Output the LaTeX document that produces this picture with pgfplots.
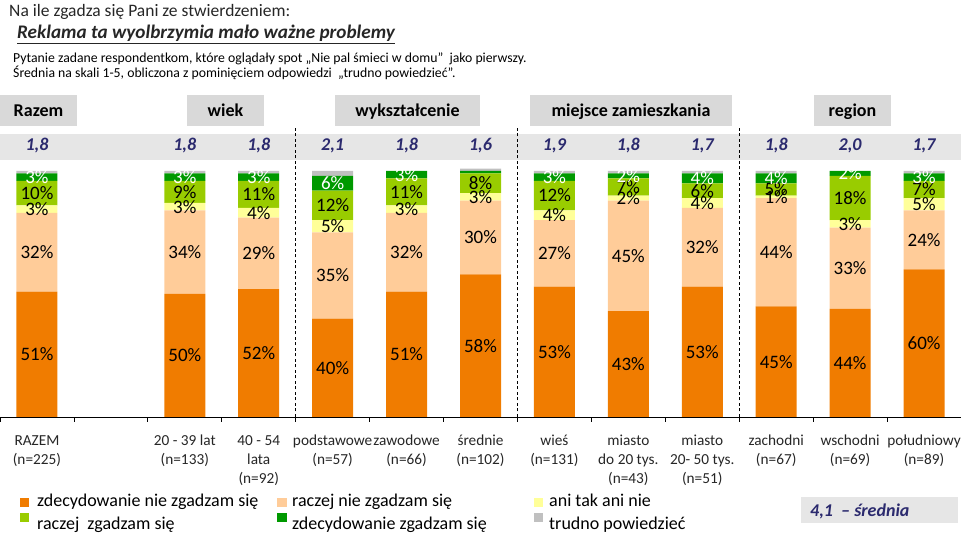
\documentclass[border=0pt]{standalone}
\usepackage{fontspec}
\setmainfont{Carlito}
\usepackage{pgfplots}
\usepackage{pgfplotstable}
\pgfplotsset{compat=1.18}

\definecolor{cA}{HTML}{F07C00}
\definecolor{cB}{HTML}{FFCC99}
\definecolor{cC}{HTML}{FFFF99}
\definecolor{cD}{HTML}{99CC00}
\definecolor{cE}{HTML}{009900}
\definecolor{cF}{HTML}{C0C0C0}
\definecolor{band}{HTML}{E6E6E6}
\definecolor{hdr}{HTML}{D9D9D9}
\definecolor{meanc}{HTML}{2B2A6E}
\definecolor{titc}{HTML}{262626}

\pgfplotstableread{
x a b c d e f
0 51 32 3 10 3 1
2 50 34 3 9 3 1
3 52 29 4 11 3 1
4 40 35 5 12 6 2
5 51 32 3 11 3 0
6 58 30 3 8 1 1
7 53 27 4 12 3 1
8 43 45 2 7 2 1
9 53 32 4 6 4 1
10 45 44 1 5 4 1
11 44 33 3 18 2 0
12 60 24 5 7 3 1
}\data

\newcommand{\fs}[2]{\fontsize{#1}{#2}\selectfont}

\begin{document}
\begin{tikzpicture}[x=1pt,y=1pt]
% mean band and headers
\fill[band] (0,378) rectangle (961,404);
\fill[hdr] (0,412) rectangle (77,443);
\fill[hdr] (187,412) rectangle (264,443);
\fill[hdr] (335,412) rectangle (480,443);
\fill[hdr] (530,412) rectangle (732,443);
\fill[hdr] (814,412) rectangle (891,443);
\node[anchor=base,font=\fs{18}{20}\bfseries] at (38.5,421) {Razem};
\node[anchor=base,font=\fs{18}{20}\bfseries] at (225.5,421) {wiek};
\node[anchor=base,font=\fs{18}{20}\bfseries] at (407.5,421) {wykształcenie};
\node[anchor=base,font=\fs{18}{20}\bfseries] at (631,421) {miejsce zamieszkania};
\node[anchor=base,font=\fs{18}{20}\bfseries] at (852.5,421) {region};

% titles
\node[anchor=base west,inner sep=0pt,text=titc,font=\fs{17.5}{20}] at (9,521) {Na ile zgadza się Pani ze stwierdzeniem:};
\node[anchor=base west,inner sep=0pt,text=titc,font=\fs{19.2}{22}\bfseries\itshape] at (17,499) {\underline{Reklama ta wyolbrzymia mało ważne problemy}};
\node[anchor=base west,inner sep=0pt,text=black,font=\fs{13.75}{15}] at (13,475) {Pytanie zadane respondentkom, które oglądały spot „Nie pal śmieci w domu”~ jako pierwszy.};
\node[anchor=base west,inner sep=0pt,text=black,font=\fs{13.75}{15}] at (13,460) {Średnia na skali 1-5, obliczona z pominięciem odpowiedzi ~„trudno powiedzieć”.};

\begin{axis}[
  at={(0pt,121pt)}, anchor=south west, scale only axis,
  width=961pt, height=246pt,
  xmin=-0.5, xmax=12.5, ymin=0, ymax=100,
  ybar stacked, bar width=41pt,
  axis y line=none, axis x line*=bottom,
  axis line style={black, line width=0.8pt},
  xtick={0,...,12},
  xticklabels={{RAZEM\\(n=225)},{},{20 - 39 lat\\(n=133)},{40 - 54\\lata\\(n=92)},{podstawowe\\(n=57)},{zawodowe\\(n=66)},{średnie\\(n=102)},{wieś\\(n=131)},{miasto\\do 20 tys.\\(n=43)},{miasto\\20- 50 tys.\\(n=51)},{zachodni\\(n=67)},{wschodni\\(n=69)},{południowy\\(n=89)}},
  major tick length=0pt,
  minor xtick={-0.5,0.5,1.5,2.5,3.5,4.5,5.5,6.5,7.5,8.5,9.5,10.5,11.5,12.5},
  minor tick length=5pt, tick align=outside,
  minor tick style={black, line width=0.8pt},
  xticklabel style={align=center, font=\fs{15.3}{19}, text=black!85, anchor=north, inner sep=0pt, yshift=-18pt},
  clip=false,
]
\addplot[fill=cA, draw=none] table[x=x,y=a]{\data};
\addplot[fill=cB, draw=none] table[x=x,y=b]{\data};
\addplot[fill=cC, draw=none] table[x=x,y=c]{\data};
\addplot[fill=cD, draw=none] table[x=x,y=d]{\data};
\addplot[fill=cE, draw=none] table[x=x,y=e]{\data};
\addplot[fill=cF, draw=none] table[x=x,y=f]{\data};
\draw[black, line width=0.8pt, dash pattern=on 3pt off 2.5pt] (axis cs:3.5,0) -- (axis cs:3.5,118.3);
\draw[black, line width=0.8pt, dash pattern=on 3pt off 2.5pt] (axis cs:6.5,0) -- (axis cs:6.5,118.3);
\draw[black, line width=0.8pt, dash pattern=on 3pt off 2.5pt] (axis cs:9.5,0) -- (axis cs:9.5,118.3);
\end{axis}

\begin{axis}[
  at={(0pt,121pt)}, anchor=south west, scale only axis,
  width=961pt, height=246pt,
  xmin=-0.5, xmax=12.5, ymin=0, ymax=100,
  hide axis, clip=false,
  nodes near coords={\pgfmathprintnumber[assume math mode=true]{\pgfplotspointmeta}\%},
  nodes near coords align=center,
  every node near coord/.append style={font=\fs{19}{20}, text=black, inner sep=0pt},
]
\addplot[only marks, mark=text, text mark={}, point meta=explicit] table[x=x, y expr=\thisrow{a}/2, meta=a]{\data};
\addplot[only marks, mark=text, text mark={}, point meta=explicit] table[x=x, y expr=\thisrow{a}+\thisrow{b}/2, meta=b]{\data};
\addplot[only marks, mark=text, text mark={}, point meta=explicit] table[x=x, y expr=\thisrow{a}+\thisrow{b}+\thisrow{c}/2, meta=c]{\data};
\addplot[only marks, mark=text, text mark={}, point meta=explicit] table[x=x, y expr=\thisrow{a}+\thisrow{b}+\thisrow{c}+\thisrow{d}/2, meta=d]{\data};
\addplot[only marks, mark=text, text mark={}, point meta=explicit, skip coords between index={5}{6}, every node near coord/.append style={text=white}] table[x=x, y expr=\thisrow{a}+\thisrow{b}+\thisrow{c}+\thisrow{d}+\thisrow{e}/2, meta=e]{\data};
% mean values
\foreach \xx/\vv in {0/{1,8},2/{1,8},3/{1,8},4/{2,1},5/{1,8},6/{1,6},7/{1,9},8/{1,8},9/{1,7},10/{1,8},11/{2,0},12/{1,7}}{
  \edef\tmp{\noexpand\node[anchor=base, text=meanc, font=\noexpand\fs{18}{20}\noexpand\bfseries\noexpand\itshape] at (axis cs:\xx,108.5) {\vv};}
  \tmp
}
\end{axis}

% legend
\fill[cA] (20,31) rectangle (29,40);
\node[anchor=base west,inner sep=0pt,font=\fs{18}{20}] at (37,31) {zdecydowanie nie zgadzam się};
\fill[cB] (277,31) rectangle (287,40);
\node[anchor=base west,inner sep=0pt,font=\fs{18}{20}] at (292,31) {raczej nie zgadzam się};
\fill[cC] (534,31) rectangle (543,40);
\node[anchor=base west,inner sep=0pt,font=\fs{18}{20}] at (549,31) {ani tak ani nie};
\fill[cD] (20,16) rectangle (29,25);
\node[anchor=base west,inner sep=0pt,font=\fs{18}{20}] at (37,9) {raczej~ zgadzam się};
\fill[cE] (277,16) rectangle (287,25);
\node[anchor=base west,inner sep=0pt,font=\fs{18}{20}] at (292,9) {zdecydowanie zgadzam się};
\fill[cF] (534,16) rectangle (543,25);
\node[anchor=base west,inner sep=0pt,font=\fs{18}{20}] at (549,9) {trudno powiedzieć};

% mean legend box
\fill[band] (801,15) rectangle (958,41);
\node[anchor=base west,inner sep=0pt,text=meanc,font=\fs{18}{20}\bfseries\itshape] at (810,21) {4,1~ – średnia};

\pgfresetboundingbox
\path[use as bounding box] (0,0) rectangle (961,538);
\end{tikzpicture}
\end{document}
